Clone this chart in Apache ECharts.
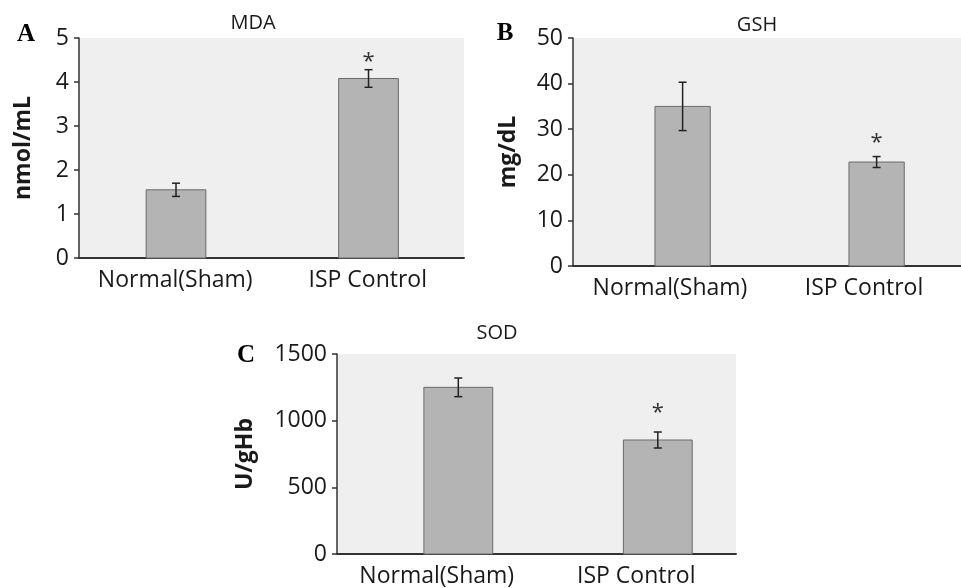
<!DOCTYPE html>
<html>
<head>
<meta charset="utf-8">
<script src="https://cdn.jsdelivr.net/npm/echarts@6/dist/echarts.min.js"></script>
<style>
html, body { margin: 0; padding: 0; background: #fff; }
#chart { width: 961px; height: 588px; }
</style>
</head>
<body>
<div id="chart"></div>
<script>
// groups on the x axis
const groups = ['Normal(Sham)', 'ISP Control']

// mean and error (±) per group
const mdaMean = [1.55, 4.08]
const mdaErr = [0.15, 0.2]
const gshMean = [35.0, 22.8]
const gshErr = [5.3, 1.2]
const sodMean = [1250, 855]
const sodErr = [70, 60]

// * = significant vs Normal(Sham)
const sigMark = [false, true]

const FONT = 'Open Sans'
const INK = '#1a1a1a'

const panels = [
  {
    name: 'MDA', letter: 'A', unit: 'nmol/mL', mean: mdaMean, err: mdaErr, max: 5, interval: 1,
    grid: { left: 79, top: 38, width: 385, height: 220 },
    barFrac: 0.31, shift: 0.004, starGap: 15, nameGap: 44,
    titleAt: [253, 23], letterAt: [26, 35]
  },
  {
    name: 'GSH', letter: 'B', unit: 'mg/dL', mean: gshMean, err: gshErr, max: 50, interval: 10,
    grid: { left: 573, top: 38, width: 400, height: 228 },
    barFrac: 0.285, shift: 0.065, starGap: 21, nameGap: 53,
    titleAt: [757, 25], letterAt: [505, 34]
  },
  {
    name: 'SOD', letter: 'C', unit: 'U/gHb', mean: sodMean, err: sodErr, max: 1500, interval: 500,
    grid: { left: 337, top: 354, width: 399, height: 203 },
    barFrac: 0.345, shift: 0.108, starGap: 26, nameGap: 80,
    titleAt: [497, 333], letterAt: [246, 356]
  }
]

function renderBar(p) {
  return function (params, api) {
    const idx = api.value(0)
    const val = api.value(1)
    const e = api.value(2)
    const band = api.size([1, 0])[0]
    const top = api.coord([idx, val])
    const base = api.coord([idx, 0])
    const hi = api.coord([idx, val + e])
    const lo = api.coord([idx, val - e])
    const w = band * p.barFrac
    const cx = top[0] + band * p.shift
    const cap = 4
    const children = [
      {
        type: 'rect',
        shape: { x: cx - w / 2, y: top[1], width: w, height: base[1] - top[1] },
        style: { fill: '#b4b4b4', stroke: '#6a6a6a', lineWidth: 1 }
      },
      {
        type: 'line',
        shape: { x1: cx, y1: hi[1], x2: cx, y2: lo[1] },
        style: { stroke: '#222', lineWidth: 1.5 }
      },
      {
        type: 'line',
        shape: { x1: cx - cap, y1: hi[1], x2: cx + cap, y2: hi[1] },
        style: { stroke: '#222', lineWidth: 1.5 }
      },
      {
        type: 'line',
        shape: { x1: cx - cap, y1: lo[1], x2: cx + cap, y2: lo[1] },
        style: { stroke: '#222', lineWidth: 1.5 }
      }
    ]
    if (api.value(3)) {
      children.push({
        type: 'text',
        style: {
          text: '*', x: cx, y: hi[1] - p.starGap + 7,
          fill: '#333', font: '22px "' + FONT + '"',
          align: 'center', verticalAlign: 'middle'
        }
      })
    }
    return { type: 'group', children: children }
  }
}

const labels = []
const grids = []
const xAxes = []
const yAxes = []
const series = []

panels.forEach(function (p, i) {
  labels.push({
    type: 'text', x: p.titleAt[0], y: p.titleAt[1],
    style: {
      text: p.name, fill: INK, font: '20px "' + FONT + '"',
      align: 'center', verticalAlign: 'middle'
    }
  })
  labels.push({
    type: 'text', x: p.letterAt[0], y: p.letterAt[1],
    style: {
      text: p.letter, fill: '#000', font: 'bold 25px "Liberation Serif"',
      align: 'center', verticalAlign: 'middle'
    }
  })
  grids.push(Object.assign({ backgroundColor: '#efefef', show: true, borderWidth: 0 }, p.grid))
  xAxes.push({
    type: 'category', gridIndex: i, data: groups,
    axisLine: { lineStyle: { color: '#333', width: 2 } },
    axisTick: { show: false },
    axisLabel: { fontFamily: FONT, fontSize: 23, color: INK, margin: 11, interval: 0 }
  })
  yAxes.push({
    type: 'value', gridIndex: i, min: 0, max: p.max, interval: p.interval,
    name: p.unit, nameLocation: 'middle', nameGap: p.nameGap, nameRotate: 90,
    nameTextStyle: { fontFamily: FONT, fontSize: 23, fontWeight: 'bold', color: INK },
    axisLine: { show: true, lineStyle: { color: '#333', width: 1.5 } },
    axisTick: { show: true, length: 5, lineStyle: { color: '#333', width: 1.5 } },
    axisLabel: {
      fontFamily: FONT, fontSize: 23, color: INK, margin: 10,
      formatter: function (v) { return String(v) }
    },
    splitLine: { show: false }
  })
  series.push({
    type: 'custom',
    xAxisIndex: i, yAxisIndex: i,
    renderItem: renderBar(p),
    encode: { x: 0, y: 1 },
    data: p.mean.map(function (m, k) { return [k, m, p.err[k], sigMark[k] ? 1 : 0] })
  })
})

const chart = echarts.init(document.getElementById('chart'))
chart.setOption({
  animation: false,
  graphic: labels,
  grid: grids,
  xAxis: xAxes,
  yAxis: yAxes,
  series: series
})
</script>
</body>
</html>
